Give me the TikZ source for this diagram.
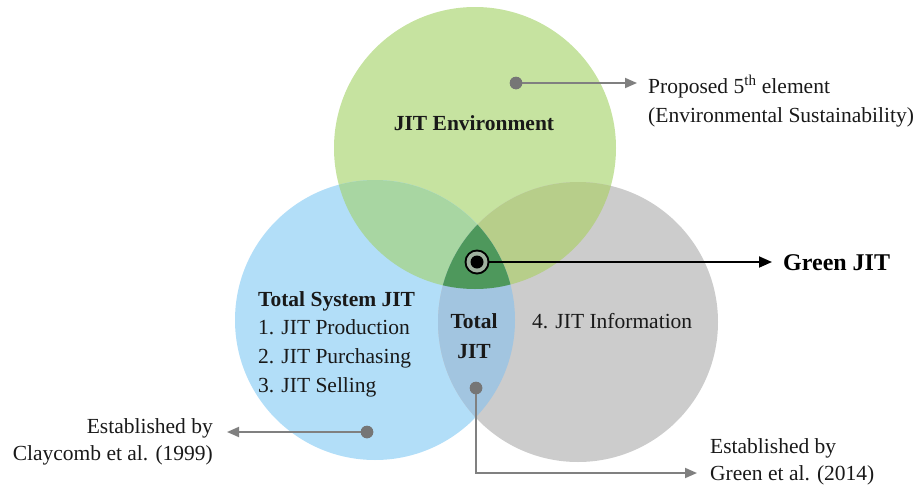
\documentclass[tikz,border=0pt]{standalone}
\usepackage{fontspec}
\setmainfont{Liberation Serif}
\usetikzlibrary{arrows.meta}
\definecolor{cgreen}{RGB}{198,227,160}
\definecolor{cblue}{RGB}{178,222,248}
\definecolor{cgray}{RGB}{204,204,204}
\definecolor{cgb}{RGB}{168,214,162}
\definecolor{cgg}{RGB}{183,206,138}
\definecolor{cbg}{RGB}{162,197,224}
\definecolor{ccenter}{RGB}{78,152,92}
\definecolor{cdot}{RGB}{118,118,118}
\definecolor{cline}{RGB}{128,128,128}
\definecolor{cring}{RGB}{160,178,160}
\definecolor{ctext}{RGB}{25,25,25}
\begin{document}
\begin{tikzpicture}[x=1pt,y=-1pt,
  txt/.style={inner sep=0pt,text=ctext,font=\fontsize{21.5}{29}\selectfont},
  btxt/.style={txt,font=\fontsize{21.5}{29}\selectfont\bfseries},
  dotnode/.style={circle,fill=cdot,inner sep=0pt,minimum size=12.5pt},
  gline/.style={draw=cline,line width=1.8pt},
  garrow/.style={gline,-{Triangle[length=12pt,width=10pt]}},
  barrow/.style={draw=black,line width=1.8pt,-{Triangle[length=13pt,width=11pt]}}]
\useasboundingbox (0,0) rectangle (922,485);
\coordinate (G) at (475,148);
\coordinate (B) at (375,320);
\coordinate (R) at (578,322);
% circles
\fill[cgreen] (G) circle[radius=141pt];
\fill[cblue] (B) circle[radius=140pt];
\fill[cgray] (R) circle[radius=140pt];
\begin{scope}
  \clip (G) circle[radius=141pt];
  \fill[cgb] (B) circle[radius=140pt];
  \fill[cgg] (R) circle[radius=140pt];
\end{scope}
\begin{scope}
  \clip (B) circle[radius=140pt];
  \fill[cbg] (R) circle[radius=140pt];
\end{scope}
\begin{scope}
  \clip (G) circle[radius=141pt];
  \clip (B) circle[radius=140pt];
  \fill[ccenter] (R) circle[radius=140pt];
\end{scope}
% texts
\node[btxt,anchor=base] (env) at (474,130) {JIT Environment};
\node[txt,anchor=base west] (prop1) at (648,93) {Proposed 5\textsuperscript{th} element};
\node[txt,anchor=base west] (prop2) at (648,122) {(Environmental Sustainability)};
\node[txt,anchor=base west,font=\fontsize{24}{29}\selectfont\bfseries,text=black] (gjit) at (783,270) {Green JIT};
\node[btxt,anchor=base west] (tsj) at (258,306) {Total System JIT};
\node[txt,anchor=base west] (l1) at (258,334) {1. JIT Production};
\node[txt,anchor=base west] (l2) at (258,363) {2. JIT Purchasing};
\node[txt,anchor=base west] (l3) at (258,392) {3. JIT Selling};
\node[btxt,anchor=base] (tj1) at (474,328) {Total};
\node[btxt,anchor=base] (tj2) at (474,358) {JIT};
\node[txt,anchor=base west] (info) at (532,328) {4. JIT Information};
\node[txt,anchor=base east] (cl1) at (213,433) {Established by};
\node[txt,anchor=base east] (cl2) at (213,460) {Claycomb et al. (1999)};
\node[txt,anchor=base west] (gr1) at (710,453) {Established by};
\node[txt,anchor=base west] (gr2) at (710,480) {Green et al. (2014)};
% connectors
\node[dotnode] (d1) at (516,83) {};
\coordinate (t1) at (637,83);
\draw[garrow] (d1.center) -- (t1);
\node[dotnode] (d2) at (367,432) {};
\coordinate (t2) at (227,432);
\draw[garrow] (d2.center) -- (t2);
\node[dotnode] (d3) at (476,388) {};
\coordinate (k3) at (476,473);
\coordinate (t3) at (697,473);
\draw[garrow] (d3.center) -- (k3) -- (t3);
\node[dotnode] (d1b) at (516,83) {};
\node[dotnode] (d2b) at (367,432) {};
\node[dotnode] (d3b) at (476,388) {};
% Green JIT marker
\coordinate (M) at (477,262);
\coordinate (t4) at (772,262);
\draw[barrow] (M) -- (t4);
\fill[black] (M) circle[radius=12.5pt];
\fill[cring] (M) circle[radius=10.5pt];
\fill[black] (M) circle[radius=6.5pt];
\end{tikzpicture}
\end{document}
